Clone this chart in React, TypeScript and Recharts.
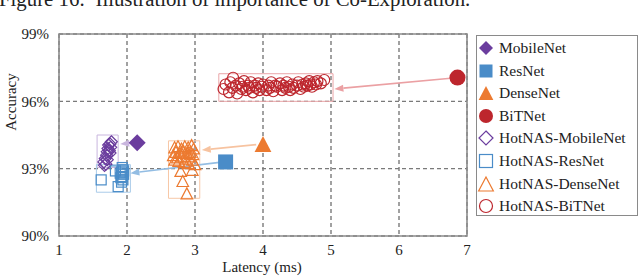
import React from "react"
import { ScatterChart, Scatter, XAxis, YAxis, CartesianGrid, ReferenceArea, ReferenceLine } from "recharts"

// baseline models (latency ms, accuracy %)
const mobileNet = [{ lat: 2.15, acc: 94.15 }]
const resNet = [{ lat: 3.45, acc: 93.3 }]
const denseNet = [{ lat: 4.0, acc: 94.1 }]
const bitNet = [{ lat: 6.86, acc: 97.06 }]

const hotnasMobileNet = [
  { lat: 1.77, acc: 94.2 }, { lat: 1.75, acc: 94.1 }, { lat: 1.73, acc: 94.05 }, { lat: 1.76, acc: 93.95 },
  { lat: 1.72, acc: 93.9 }, { lat: 1.74, acc: 93.8 }, { lat: 1.71, acc: 93.75 }, { lat: 1.75, acc: 93.7 },
  { lat: 1.7, acc: 93.6 }, { lat: 1.68, acc: 93.45 }, { lat: 1.71, acc: 93.4 }, { lat: 1.66, acc: 93.3 },
  { lat: 1.69, acc: 93.2 }, { lat: 1.67, acc: 93.15 },
]

const hotnasResNet = [
  { lat: 1.62, acc: 92.5 }, { lat: 1.87, acc: 92.2 }, { lat: 1.83, acc: 92.9 }, { lat: 1.93, acc: 93.05 },
  { lat: 1.94, acc: 92.95 }, { lat: 1.92, acc: 92.85 }, { lat: 1.95, acc: 92.75 }, { lat: 1.93, acc: 92.65 },
  { lat: 1.91, acc: 92.6 }, { lat: 1.94, acc: 92.5 }, { lat: 1.92, acc: 92.4 }, { lat: 1.95, acc: 92.9 },
  { lat: 1.9, acc: 92.8 },
]

const hotnasDenseNet = [
  { lat: 2.7, acc: 93.95 }, { lat: 2.75, acc: 94.0 }, { lat: 2.8, acc: 93.9 }, { lat: 2.85, acc: 94.0 },
  { lat: 2.9, acc: 93.95 }, { lat: 2.95, acc: 94.05 }, { lat: 2.98, acc: 93.9 }, { lat: 2.72, acc: 93.75 },
  { lat: 2.78, acc: 93.7 }, { lat: 2.83, acc: 93.8 }, { lat: 2.88, acc: 93.7 }, { lat: 2.93, acc: 93.75 },
  { lat: 2.97, acc: 93.65 }, { lat: 2.68, acc: 93.6 }, { lat: 2.74, acc: 93.5 }, { lat: 2.8, acc: 93.55 },
  { lat: 2.86, acc: 93.45 }, { lat: 2.91, acc: 93.55 }, { lat: 2.96, acc: 93.4 }, { lat: 2.76, acc: 93.35 },
  { lat: 2.84, acc: 93.3 }, { lat: 2.9, acc: 93.25 }, { lat: 2.7, acc: 93.4 }, { lat: 2.79, acc: 92.9 },
  { lat: 2.82, acc: 92.45 }, { lat: 2.88, acc: 91.9 }, { lat: 2.96, acc: 92.95 }, { lat: 3.0, acc: 93.2 },
]

const hotnasBiTNet = [
  { lat: 3.42, acc: 96.55 }, { lat: 3.45, acc: 96.75 }, { lat: 3.5, acc: 96.4 }, { lat: 3.52, acc: 96.85 },
  { lat: 3.56, acc: 97.05 }, { lat: 3.55, acc: 96.6 }, { lat: 3.6, acc: 96.7 }, { lat: 3.62, acc: 96.35 },
  { lat: 3.65, acc: 96.8 }, { lat: 3.68, acc: 96.55 }, { lat: 3.7, acc: 96.65 }, { lat: 3.72, acc: 96.9 },
  { lat: 3.75, acc: 96.5 }, { lat: 3.78, acc: 96.7 }, { lat: 3.8, acc: 96.6 }, { lat: 3.82, acc: 96.85 },
  { lat: 3.85, acc: 96.4 }, { lat: 3.88, acc: 96.7 }, { lat: 3.9, acc: 96.6 }, { lat: 3.93, acc: 96.8 },
  { lat: 3.95, acc: 96.5 }, { lat: 3.98, acc: 96.65 }, { lat: 4.0, acc: 96.75 }, { lat: 4.05, acc: 96.5 },
  { lat: 4.08, acc: 96.7 }, { lat: 4.1, acc: 96.6 }, { lat: 4.12, acc: 96.85 }, { lat: 4.15, acc: 96.45 },
  { lat: 4.18, acc: 96.7 }, { lat: 4.2, acc: 96.65 }, { lat: 4.25, acc: 96.8 }, { lat: 4.28, acc: 96.5 },
  { lat: 4.3, acc: 96.7 }, { lat: 4.33, acc: 96.6 }, { lat: 4.35, acc: 96.85 }, { lat: 4.38, acc: 96.65 },
  { lat: 4.4, acc: 96.5 }, { lat: 4.43, acc: 96.75 }, { lat: 4.45, acc: 96.6 }, { lat: 4.5, acc: 96.7 },
  { lat: 4.52, acc: 96.85 }, { lat: 4.55, acc: 96.55 }, { lat: 4.58, acc: 96.75 }, { lat: 4.6, acc: 96.65 },
  { lat: 4.63, acc: 96.8 }, { lat: 4.65, acc: 96.7 }, { lat: 4.68, acc: 96.9 }, { lat: 4.7, acc: 96.75 },
  { lat: 4.72, acc: 96.65 }, { lat: 4.75, acc: 96.85 }, { lat: 4.78, acc: 96.75 }, { lat: 4.8, acc: 96.9 },
  { lat: 4.85, acc: 96.8 }, { lat: 4.9, acc: 96.95 },
]

// search-space boxes around each HotNAS cluster: [latMin, latMax], [accMin, accMax]
const boxLat = [[1.56, 1.87], [1.55, 2.05], [2.61, 3.07], [3.35, 5.03]]
const boxAcc = [[93.05, 94.5], [91.95, 93.18], [91.68, 94.24], [96.0, 97.23]]

// arrows from baseline to HotNAS result
const arrowStart = [[2.08, 94.15], [3.36, 93.28], [3.9, 94.07], [6.76, 97.03]]
const arrowEnd = [[1.9, 94.1], [2.05, 92.8], [3.1, 93.83], [5.05, 96.55]]

const latTicks = [1, 2, 3, 4, 5, 6, 7]
const accTicks = [90, 93, 96, 99]

const legendNames = [
  "MobileNet", "ResNet", "DenseNet", "BiTNet",
  "HotNAS-MobileNet", "HotNAS-ResNet", "HotNAS-DenseNet", "HotNAS-BiTNet",
]

const FONT = '"Liberation Serif", "Times New Roman", serif'
const PURPLE = "#6b3d9e"
const BLUE = "#4a8cc8"
const ORANGE = "#ec7a30"
const RED = "#bd262d"
const boxColors = ["#c9b6de", "#a9cbe9", "#f7c7a6", "#eaa5a8"]
const arrowColors = ["#c9b6de", "#93bde3", "#f7c3a0", "#eba0a3"]

function marker(kind: string, color: string, size: number, filled: boolean, cx: number, cy: number, key?: any) {
  const h = size / 2
  const fill = filled ? color : "none"
  const sw = filled ? 0 : 1.2
  if (kind === "diamond") {
    return <polygon key={key} points={`${cx},${cy - h} ${cx + h},${cy} ${cx},${cy + h} ${cx - h},${cy}`} fill={fill} stroke={color} strokeWidth={sw} />
  }
  if (kind === "square") {
    return <rect key={key} x={cx - h} y={cy - h} width={size} height={size} fill={fill} stroke={color} strokeWidth={sw} />
  }
  if (kind === "triangle") {
    return <polygon key={key} points={`${cx},${cy - h} ${cx + h * 1.05},${cy + h} ${cx - h * 1.05},${cy + h}`} fill={fill} stroke={color} strokeWidth={sw} />
  }
  return <circle key={key} cx={cx} cy={cy} r={h} fill={fill} stroke={color} strokeWidth={sw} />
}

const shape = (kind: string, color: string, size: number, filled: boolean) => (props: any) =>
  marker(kind, color, size, filled, props.cx, props.cy)

const arrowShape = (color: string) => (props: any) => {
  const { x1, y1, x2, y2 } = props
  const a = Math.atan2(y2 - y1, x2 - x1)
  const len = 9
  const w = 3.5
  const bx = x2 - len * Math.cos(a)
  const by = y2 - len * Math.sin(a)
  return (
    <g>
      <line x1={x1} y1={y1} x2={bx} y2={by} stroke={color} strokeWidth={1.6} />
      <polygon
        points={`${x2},${y2} ${bx - w * Math.sin(a)},${by + w * Math.cos(a)} ${bx + w * Math.sin(a)},${by - w * Math.cos(a)}`}
        fill={color}
      />
    </g>
  )
}

const legendIcons: [string, string, number, boolean][] = [
  ["diamond", PURPLE, 14, true],
  ["square", BLUE, 13, true],
  ["triangle", ORANGE, 14, true],
  ["circle", RED, 14, true],
  ["diamond", PURPLE, 14, false],
  ["square", BLUE, 13, false],
  ["triangle", ORANGE, 14, false],
  ["circle", RED, 13, false],
]

function LegendBox() {
  return (
    <div
      style={{
        position: "absolute",
        left: 476,
        top: 35,
        width: 162,
        height: 181,
        border: "1px solid #8a8a8a",
        boxSizing: "border-box",
        background: "#fff",
        fontFamily: FONT,
        fontSize: 15.5,
        color: "#222",
      }}
    >
      {legendNames.map((name, i) => (
        <div key={name} style={{ position: "absolute", left: 0, top: 1 + i * 22.6, height: 22, display: "flex", alignItems: "center" }}>
          <svg width={20} height={22} style={{ marginLeft: -1 }}>
            {marker(legendIcons[i][0], legendIcons[i][1], legendIcons[i][2], legendIcons[i][3], 10, 11)}
          </svg>
          <span style={{ marginLeft: 3, whiteSpace: "nowrap" }}>{name}</span>
        </div>
      ))}
    </div>
  )
}

export default function App() {
  const tick = { fontFamily: FONT, fontSize: 15, fill: "#222" }
  return (
    <div style={{ position: "absolute", left: 0, top: 0, width: 640, height: 277, background: "#fff", overflow: "hidden" }}>
      <svg width={640} height={277} style={{ position: "absolute", left: 0, top: 0 }}>
        <text x={-1} y={6} fontFamily={FONT} fontSize={20.8} fill="#222" style={{ whiteSpace: "pre" }}>
          Figure 16:  Illustration of importance of Co-Exploration.
        </text>
      </svg>
      <div style={{ position: "absolute", left: 0, top: 0 }}>
        <ScatterChart width={640} height={277} margin={{ top: 34, right: 173, bottom: 0, left: 0 }}>
          <CartesianGrid stroke="#7a7a7a" strokeWidth={1.4} strokeDasharray="4 3" />
          <XAxis
            type="number"
            dataKey="lat"
            domain={[1, 7]}
            ticks={latTicks}
            height={41}
            tickLine={false}
            axisLine={false}
            tick={tick}
            label={() => (
              <text x={262} y={272} textAnchor="middle" fontFamily={FONT} fontSize={15} fill="#222">
                Latency (ms)
              </text>
            )}
          />
          <YAxis
            type="number"
            dataKey="acc"
            domain={[90, 99]}
            ticks={accTicks}
            width={59}
            tickLine={false}
            axisLine={false}
            tickMargin={4}
            tick={tick}
            tickFormatter={(v) => `${v}%`}
            label={() => (
              <text x={16} y={102} transform="rotate(-90 16 102)" textAnchor="middle" fontFamily={FONT} fontSize={15} fill="#222">
                Accuracy
              </text>
            )}
          />
          <ReferenceArea x1={1} x2={7} y1={90} y2={99} fill="none" stroke="#8c8c8c" strokeWidth={1.6} fillOpacity={0} />
          {boxLat.map((b, i) => (
            <ReferenceArea
              key={"box" + i}
              x1={b[0]}
              x2={b[1]}
              y1={boxAcc[i][0]}
              y2={boxAcc[i][1]}
              fill="none"
              fillOpacity={0}
              stroke={boxColors[i]}
              strokeWidth={1}
            />
          ))}
          {arrowStart.map((s, i) => (
            <ReferenceLine
              key={"arrow" + i}
              segment={[{ x: s[0], y: s[1] }, { x: arrowEnd[i][0], y: arrowEnd[i][1] }]}
              shape={arrowShape(arrowColors[i])}
            />
          ))}
          <Scatter name="HotNAS-MobileNet" data={hotnasMobileNet} shape={shape("diamond", PURPLE, 12, false)} isAnimationActive={false} />
          <Scatter name="HotNAS-ResNet" data={hotnasResNet} shape={shape("square", BLUE, 10, false)} isAnimationActive={false} />
          <Scatter name="HotNAS-DenseNet" data={hotnasDenseNet} shape={shape("triangle", ORANGE, 11, false)} isAnimationActive={false} />
          <Scatter name="HotNAS-BiTNet" data={hotnasBiTNet} shape={shape("circle", RED, 11, false)} isAnimationActive={false} />
          <Scatter name="MobileNet" data={mobileNet} shape={shape("diamond", PURPLE, 17, true)} isAnimationActive={false} />
          <Scatter name="ResNet" data={resNet} shape={shape("square", BLUE, 15, true)} isAnimationActive={false} />
          <Scatter name="DenseNet" data={denseNet} shape={shape("triangle", ORANGE, 16, true)} isAnimationActive={false} />
          <Scatter name="BiTNet" data={bitNet} shape={shape("circle", RED, 16, true)} isAnimationActive={false} />
        </ScatterChart>
      </div>
      <LegendBox />
    </div>
  )
}
